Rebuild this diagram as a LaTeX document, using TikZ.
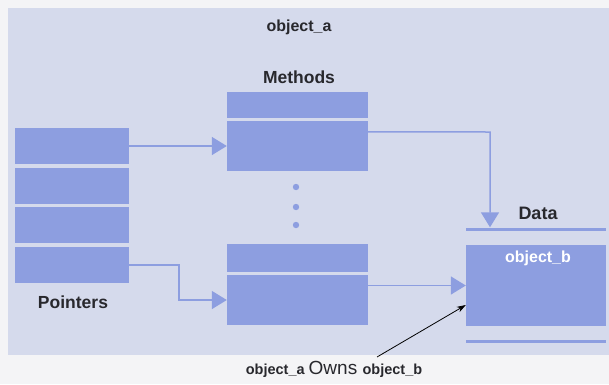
\documentclass[tikz,border=0pt]{standalone}
\usepackage{fontspec}
\setmainfont{Liberation Sans}
\usetikzlibrary{arrows.meta,calc}
\definecolor{pagebg}{RGB}{244,244,246}
\definecolor{panel}{RGB}{213,218,236}
\definecolor{boxc}{RGB}{141,158,224}
\definecolor{txt}{RGB}{40,40,45}
\tikzset{
  cell/.style={fill=boxc, draw=none, inner sep=0pt, minimum width=#1},
  ptr/.style={cell=114pt, minimum height=36pt},
  lbl/.style={font=\bfseries\fontsize{17.5}{17.5}\selectfont, text=txt, inner sep=0pt},
  link/.style={draw=boxc, line width=1.5pt, -{Triangle[length=15pt,width=18pt]}},
  bar/.style={fill=boxc, draw=none, inner sep=0pt, minimum width=140pt, minimum height=3pt}
}
\begin{document}
\begin{tikzpicture}[x=1pt,y=-1pt]
\useasboundingbox (0,0) rectangle (609,384);
\fill[pagebg] (0,0) rectangle (609,384);
\fill[panel] (8,8) rectangle (609,355);
% pointers
\node[ptr] (p1) at (72,146) {};
\node[ptr] (p2) at (72,185.7) {};
\node[ptr] (p3) at (72,225.3) {};
\node[ptr] (p4) at (72,265) {};
\node[lbl] (plab) at (73,302) {Pointers};
% methods
\node[lbl] (oa) at (299,27) {\fontsize{16}{16}\selectfont object\_a};
\node[lbl] (mlab) at (299,77) {Methods};
\node[cell=141pt, minimum height=26pt] (m1t) at (297.5,105) {};
\node[cell=141pt, minimum height=50pt] (m1b) at (297.5,146) {};
\node[cell=141pt, minimum height=28pt] (m2t) at (297.5,258) {};
\node[cell=141pt, minimum height=50pt] (m2b) at (297.5,300) {};
\fill[boxc] (296,187) circle (3.2pt) (296,207) circle (3.2pt) (296,225) circle (3.2pt);
% data
\node[lbl] (dlab) at (538,213) {\fontsize{18}{18}\selectfont Data};
\node[bar] (dtop) at (536,229) {};
\node[cell=140pt, minimum height=81pt] (dbox) at (536,285.5) {};
\node[bar] (dbot) at (536,341) {};
\node[lbl, text=white] (ob) at (538,258) {\fontsize{16}{16}\selectfont object\_b};
% connectors
\draw[link] (p1.east) -- (p1.east -| m1b.west);
\coordinate (k2) at (179,265);
\draw[link] (p4.east) -- (k2) |- (m2b.west);
\coordinate (s3) at ($(m1b.north east)+(0,11)$);
\coordinate (k3) at (490,132);
\draw[link] (s3) -- (k3) -- (k3 |- dtop.north);
\draw[link] (dbox.west -| m2b.east) -- (dbox.west);
% owns label
\node[lbl, anchor=base] (own) at (334,374) {\fontsize{14.5}{14.5}\selectfont object\_a \mdseries\fontsize{19}{19}\selectfont Owns \bfseries\fontsize{14.5}{14.5}\selectfont object\_b};
\coordinate (ownp) at (377,357);
\draw[black, line width=0.8pt, -{Stealth[length=9pt,width=6pt]}] (ownp) -- (dbox.west |- 0,305);
\end{tikzpicture}
\end{document}
